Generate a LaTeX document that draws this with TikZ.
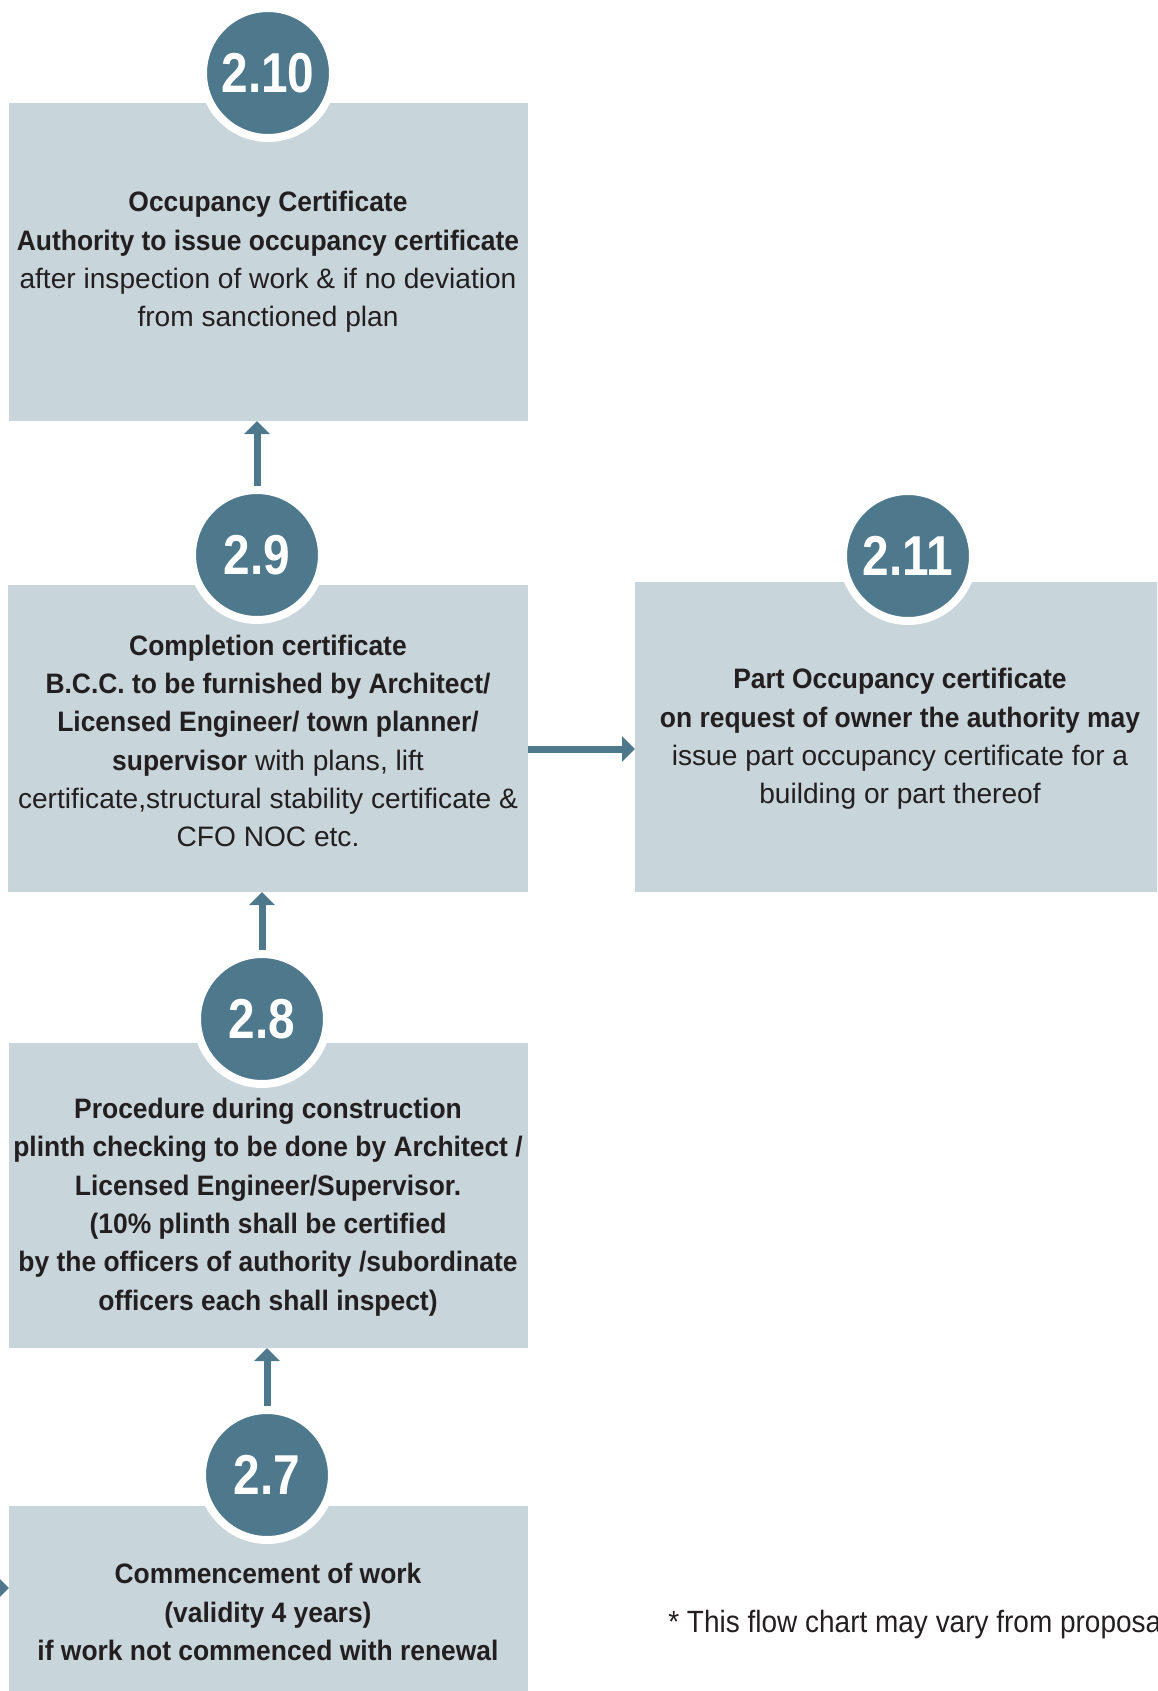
\documentclass[tikz,border=0pt]{standalone}
\usepackage{fontspec}
\setmainfont{Liberation Sans}[BoldFeatures={FakeStretch=0.94}]
\newfontfamily\numfont{Liberation Sans}[FakeStretch=0.85]
\newfontfamily\notefont{Liberation Sans}[FakeStretch=0.91]
\usetikzlibrary{arrows.meta,fit}
\definecolor{disc}{HTML}{4E788C}
\definecolor{pane}{HTML}{C8D5DB}
\definecolor{ink}{HTML}{231F20}
\begin{document}
\begin{tikzpicture}[x=0.02cm, y=-0.02cm, line join=round,
 box/.style={fill=pane, inner sep=0pt, outer sep=0pt},
 num/.style={circle, fill=disc, draw=white, line width=0.16cm, minimum size=2.6cm, inner sep=0pt,
   text=white, font=\numfont\bfseries\fontsize{32}{32}\selectfont},
 txt/.style={align=center, text=ink, inner sep=0pt, font=\fontsize{16}{21.8}\selectfont},
 arr/.style={draw=disc, line width=0.14cm, -{Triangle[width=0.5cm,length=0.26cm]}}]
 \useasboundingbox (0,0) rectangle (1157,1691);
 \clip (0,0) rectangle (1157,1691);
 % boxes
 \node[box, fit={(9,103) (528,421)}] (b10) {};
 \node[box, fit={(8,585) (528,892)}] (b9) {};
 \node[box, fit={(635,582) (1165,892)}] (b11) {};
 \node[box, fit={(9,1043) (528,1348)}] (b8) {};
 \node[box, fit={(9,1506) (528,1810)}] (b7) {};
 % step numbers
 \foreach \k/\x/\y in {10/268/73, 9/257/555, 11/908/556, 8/262/1019, 7/267/1475}
  \node[num] (c\k) at (\x,\y) {2.\k};
 % texts
 \node[txt] (t10) at (268,262) {\textbf{Occupancy Certificate}\\
  \textbf{Authority to issue occupancy certificate}\\
  after inspection of work \& if no deviation\\
  from sanctioned plan};
 \node[txt] (t9) at (268,741) {\textbf{Completion certificate}\\
  \textbf{B.C.C. to be furnished by Architect/}\\
  \textbf{Licensed Engineer/ town planner/}\\
  \textbf{supervisor} with plans, lift\\
  certificate,structural stability certificate \&\\
  CFO NOC etc.};
 \node[txt] (t11) at (900,739) {\textbf{Part Occupancy certificate}\\
  \textbf{on request of owner the authority may}\\
  issue part occupancy certificate for a\\
  building or part thereof};
 \node[txt, font=\bfseries\fontsize{16}{21.8}\selectfont] (t8) at (268,1207) {Procedure during construction\\
  plinth checking to be done by Architect /\\
  Licensed Engineer/Supervisor.\\
  (10\% plinth shall be certified\\
  by the officers of authority /subordinate\\
  officers each shall inspect)};
 \node[txt, font=\bfseries\fontsize{16}{21.8}\selectfont] (t7) at (268,1612) {Commencement of work\\
  (validity 4 years)\\
  if work not commenced with renewal};
 \node[txt, anchor=base west, font=\notefont\fontsize{17.5}{21.8}\selectfont] (fn) at (668,1632) {* This flow chart may vary from proposal};
 % arrows
 \draw[arr] (c9.north) -- (c9.north |- b10.south);
 \draw[arr] (c8.north) -- (c8.north |- b9.south);
 \draw[arr] (c7.north) -- (c7.north |- b8.south);
 \draw[arr] ([yshift=-0.21cm]b9.east) -- ([yshift=-0.21cm]b9.east -| b11.west);
 \coordinate (in7) at (-80,1588);
 \draw[arr] (in7) -- (in7 -| b7.west);
\end{tikzpicture}
\end{document}
